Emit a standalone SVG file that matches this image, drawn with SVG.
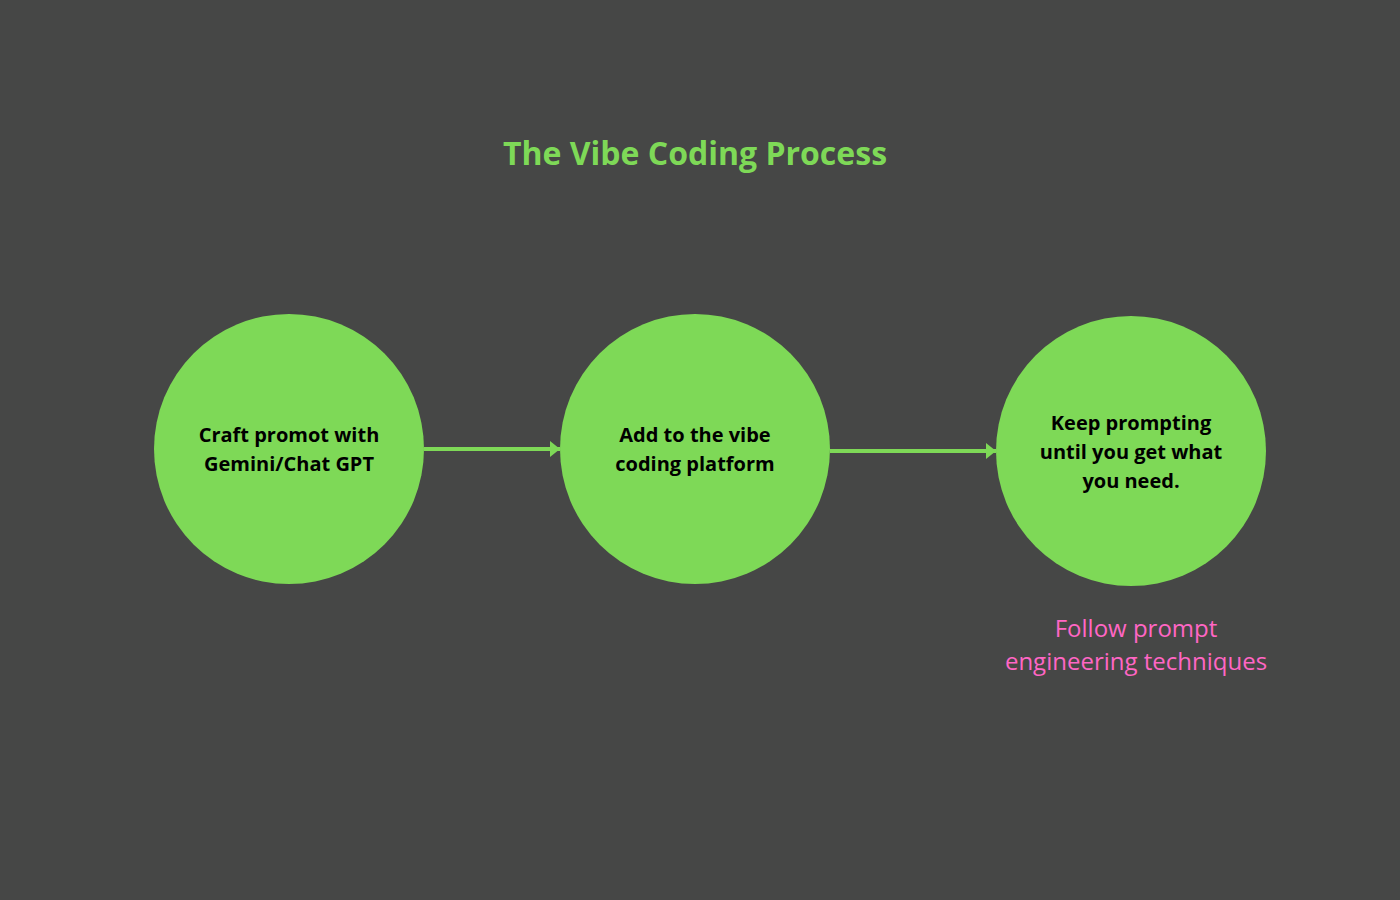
<svg xmlns="http://www.w3.org/2000/svg" width="1400" height="900" viewBox="0 0 1400 900">
<style>
.n{fill:#7ed957}
.t{font-family:"Open Sans","Liberation Sans",sans-serif;font-weight:bold;font-size:20px;fill:#000;text-anchor:middle}
.c{stroke:#7ed957;stroke-width:4;fill:none;marker-end:url(#a)}
</style>
<defs><marker id="a" markerUnits="userSpaceOnUse" markerWidth="12" markerHeight="16" refX="10" refY="8" orient="auto"><path d="M0,0 L10,8 L0,16 Z" fill="#7ed957"/></marker></defs>
<rect width="1400" height="900" fill="#464746"/>
<text x="695" y="165" font-family="Open Sans,Liberation Sans,sans-serif" font-weight="bold" font-size="32" fill="#7ed957" text-anchor="middle">The Vibe Coding Process</text>
<g id="connectors">
<path class="c" d="M424,449 H560"/>
<path class="c" d="M830,451 H996"/>
</g>
<g id="n1"><circle class="n" cx="289" cy="449" r="135"/><text class="t" x="289" y="442">Craft promot with</text><text class="t" x="289" y="471">Gemini/Chat GPT</text></g>
<g id="n2"><circle class="n" cx="695" cy="449" r="135"/><text class="t" x="695" y="442">Add to the vibe</text><text class="t" x="695" y="471">coding platform</text></g>
<g id="n3"><circle class="n" cx="1131" cy="451" r="135"/><text class="t" x="1131" y="430">Keep prompting</text><text class="t" x="1131" y="459">until you get what</text><text class="t" x="1131" y="488">you need.</text></g>
<g id="note"><text x="1136" y="637" font-family="Open Sans,Liberation Sans,sans-serif" font-size="24" fill="#ff66c4" text-anchor="middle">Follow prompt</text><text x="1136" y="670" font-family="Open Sans,Liberation Sans,sans-serif" font-size="24" fill="#ff66c4" text-anchor="middle">engineering techniques</text></g>
</svg>
